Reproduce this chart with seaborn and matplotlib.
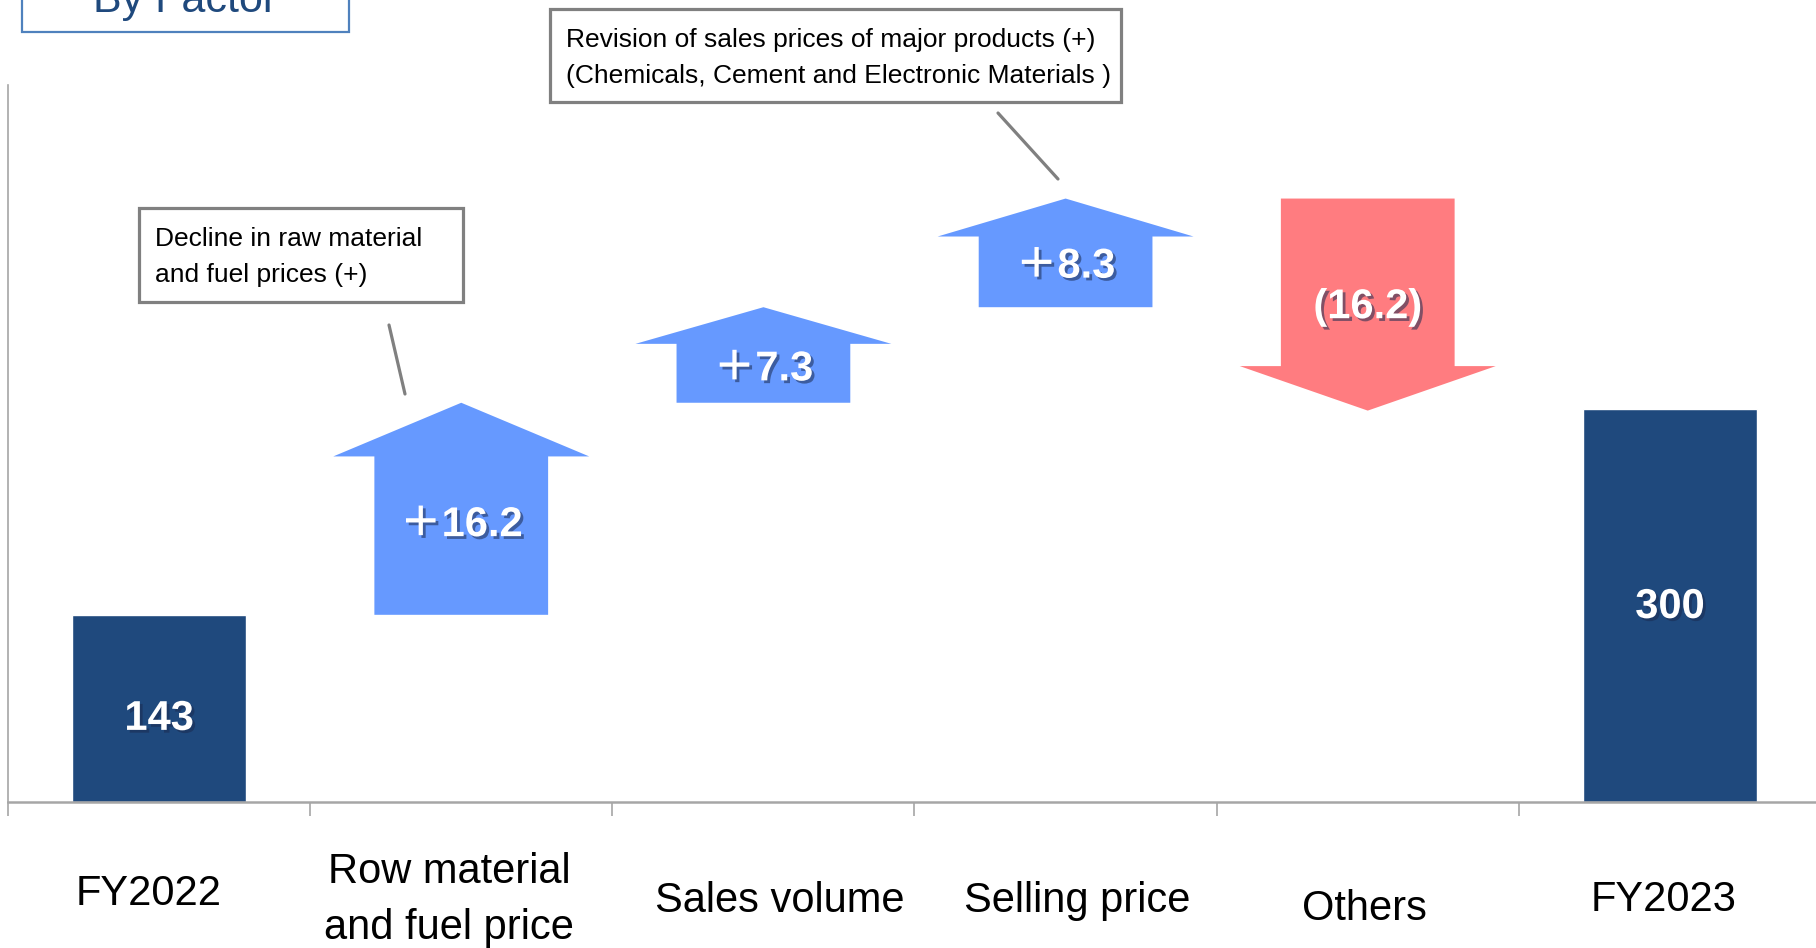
import matplotlib
matplotlib.use("Agg")
import matplotlib.pyplot as plt
import matplotlib.patheffects as pe
import matplotlib.transforms as mtrans
from matplotlib.patches import Polygon, Rectangle
from matplotlib.lines import Line2D
import pandas as pd
import seaborn as sns

# ---- data ----
categories = ["FY2022", "Row material\nand fuel price", "Sales volume",
              "Selling price", "Others", "FY2023"]
start_total = 143
end_total = 300
factor_deltas = [16.2, 7.3, 8.3, -16.2]      # values printed in the arrows
factor_labels = ["\uff0b16.2", "\uff0b7.3", "\uff0b8.3", "(16.2)"]
delta_scale = 10                               # arrows drawn at 10x the printed unit
note_1 = "Decline in raw material\nand fuel prices (+)"
note_2 = "Revision of sales prices of major products (+)\n(Chemicals, Cement and Electronic Materials )"
title_text = "By Factor"

# ---- styles ----
NAVY = "#1F497D"
BLUE = "#6699FF"
RED = "#FF7C80"
GRAY = "#A6A6A6"
BOXGRAY = "#808080"
head_len = [41, 28, 29, 34]
label_shift = [8, 3, 4, -19]        # nudges for the arrow labels (data units)
tick_nudge = [(-10, 6), (-12, 12), (16, 13), (12, 13), (-3, 21), (-6, 12)]  # px, +y = down
bar_w = 0.575
head_w = 0.847

sns.set_theme(style="white")
main_font = ["Liberation Sans", "Noto Sans CJK JP", "DejaVu Sans"]
plt.rcParams["font.family"] = main_font

W, H = 1816, 948
fig = plt.figure(figsize=(W / 100, H / 100), dpi=100)
ax = fig.add_axes([8 / W, (H - 802) / H, 1813 / W, 802 / H])

# totals
df = pd.DataFrame({"cat": [categories[0], categories[-1]],
                   "val": [start_total, end_total]})
sns.barplot(data=df, x="cat", y="val", order=categories, color=NAVY,
            saturation=1, width=bar_w, ax=ax)

shadow = [pe.withSimplePatchShadow(offset=(2, -2), shadow_rgbFace="#1a2a50", alpha=0.55)]


def value_text(x, y, s):
    ax.text(x, y, s, ha="center", va="center", color="white", fontsize=30,
            fontweight="bold", family=main_font, path_effects=shadow, zorder=5)


value_text(0, start_total / 2 - 8, str(start_total))
value_text(5, end_total / 2 - 1, str(end_total))

# factor arrows
level = start_total
for i, (d, lab, h) in enumerate(zip(factor_deltas, factor_labels, head_len)):
    x = i + 1
    b = level
    t = level + d * delta_scale
    s = 1 if t > b else -1
    neck = t - s * h
    pts = [(x - bar_w / 2, b), (x + bar_w / 2, b), (x + bar_w / 2, neck),
           (x + head_w / 2, neck), (x, t), (x - head_w / 2, neck),
           (x - bar_w / 2, neck)]
    ax.add_patch(Polygon(pts, closed=True, facecolor=BLUE if s > 0 else RED,
                         edgecolor="none", zorder=3))
    value_text(x, (b + neck) / 2 + label_shift[i], lab)
    level = t

ax.set_xlim(-0.5, 5.5)
ax.set_ylim(0, 802 / 1.309)
ax.set_ylabel("")
ax.set_xlabel("")
ax.set_yticks([])

for side in ["top", "right"]:
    ax.spines[side].set_visible(False)
ax.spines["left"].set_color(GRAY)
ax.spines["left"].set_linewidth(1.2)
ax.spines["left"].set_bounds(0, 548)
ax.spines["bottom"].set_color(GRAY)
ax.spines["bottom"].set_linewidth(1.8)

ax.set_xticks(range(len(categories)))
ax.set_xticklabels(categories, fontsize=30, va="center", color="black",
                   linespacing=1.5)
ax.tick_params(axis="x", which="major", length=0, pad=62)
ax.set_xticks([i - 0.5 for i in range(len(categories) + 1)], minor=True)
ax.tick_params(axis="x", which="minor", length=10, width=1.2, color=GRAY,
               bottom=True)
for lbl, (dx, dy) in zip(ax.get_xticklabels(), tick_nudge):
    lbl.set_transform(lbl.get_transform() +
                      mtrans.ScaledTranslation(dx / 100, -dy / 100, fig.dpi_scale_trans))


def fx(px):
    return px / W


def fy(py):
    return 1 - py / H


# note boxes and connectors (figure pixel positions)
fig.patches.append(Rectangle((fx(139), fy(302)), fx(463 - 139), (302 - 208) / H,
                             transform=fig.transFigure, facecolor="white",
                             edgecolor=BOXGRAY, linewidth=2.3, zorder=6))
fig.text(fx(155), fy(257), note_1, ha="left", va="center", fontsize=19,
         linespacing=1.6, color="black", zorder=7)
fig.lines.append(Line2D([fx(389), fx(405)], [fy(325), fy(394)],
                        transform=fig.transFigure, color=BOXGRAY, lw=2.3))

fig.patches.append(Rectangle((fx(550), fy(102)), fx(1121 - 550), (102 - 9) / H,
                             transform=fig.transFigure, facecolor="white",
                             edgecolor=BOXGRAY, linewidth=2.3, zorder=6))
fig.text(fx(566), fy(58), note_2, ha="left", va="center", fontsize=19,
         linespacing=1.6, color="black", zorder=7)
fig.lines.append(Line2D([fx(998), fx(1058)], [fy(113), fy(179)],
                        transform=fig.transFigure, color=BOXGRAY, lw=2.3))

# title box, cut by the top edge
fig.patches.append(Rectangle((fx(22), fy(32)), fx(349 - 22), 60 / H,
                             transform=fig.transFigure, facecolor="white",
                             edgecolor="#4F81BD", linewidth=1.6, zorder=6))
fig.text(fx(185), fy(12), title_text, ha="center", va="baseline", fontsize=31,
         color=NAVY, family=["Liberation Sans", "DejaVu Sans"], zorder=7)

fig.savefig("out.png", dpi=100)
